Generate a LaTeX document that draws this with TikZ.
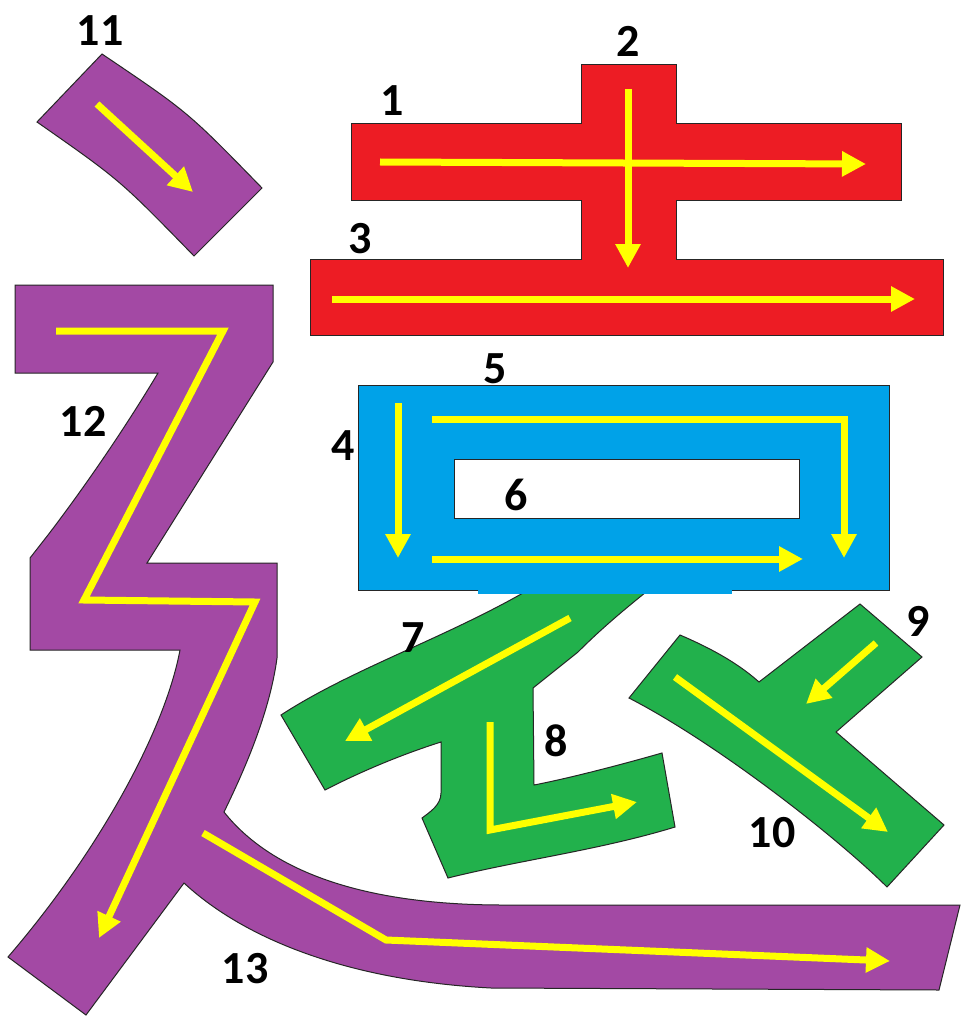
\documentclass[tikz,border=0pt]{standalone}
\usepackage{fontspec}
\setmainfont{Carlito}
\usetikzlibrary{arrows.meta}
\definecolor{kpurple}{HTML}{A349A4}
\definecolor{kred}{HTML}{ED1C24}
\definecolor{kblue}{HTML}{00A2E8}
\definecolor{kgreen}{HTML}{22B14C}
\definecolor{kyellow}{HTML}{FFFF00}
\tikzset{
  strokeshape/.style={draw=black!85, line width=1pt, line join=miter},
  dirarrow/.style={draw=kyellow, line width=7pt, line join=miter,
    -{Triangle[length=24pt,width=24pt]}},
  numlabel/.style={font=\fontsize{46}{46}\selectfont\bfseries, text=black, inner sep=0pt}
}
\begin{document}
\begin{tikzpicture}[x=1pt,y=-1pt]
\useasboundingbox (0,0) rectangle (961,1016);
\fill[white] (0,0) rectangle (961,1016);

% ---- stroke 11 (dot)
\draw[strokeshape, fill=kpurple] (102,54) .. controls (188,112) .. (262,188)
  -- (194,256) .. controls (120,180) .. (37,122) -- cycle;

% ---- strokes 12 + 13
\draw[strokeshape, fill=kpurple] (15,285) -- (273,285) -- (273,362) -- (147,563)
  -- (277,563) -- (277,658) .. controls (270,710) and (247,765) .. (224,812)
  .. controls (270,870) and (360,905) .. (503,905) -- (960,905) -- (939,990)
  -- (491,988) .. controls (340,980) and (240,935) .. (184,883)
  -- (86,1015) -- (8,957) .. controls (100,850) and (165,730) .. (180,650)
  -- (30,650) -- (30,558) -- (48,535) .. controls (90,480) and (130,420) .. (158,373)
  -- (15,373) -- cycle;

% ---- red (strokes 1,2,3)
\draw[strokeshape, fill=kred] (581,65) -- (676,65) -- (676,124) -- (901,124)
  -- (901,201) -- (676,201) -- (676,259) -- (943,259) -- (943,335) -- (310,335)
  -- (310,259) -- (581,259) -- (581,201) -- (351,201) -- (351,124) -- (581,124) -- cycle;

% ---- green strokes 7 + 8
\draw[strokeshape, fill=kgreen] (528,588) -- (523,593)
  .. controls (440,640) and (350,670) .. (281,715) -- (325,790)
  .. controls (360,772) and (400,755) .. (441,742) -- (441,793)
  .. controls (441,805) and (430,812) .. (422,818) -- (448,878)
  .. controls (520,860) and (600,850) .. (675,827) -- (662,753)
  .. controls (620,765) and (570,778) .. (534,785) -- (533,688) -- (578,652)
  .. controls (605,625) and (630,605) .. (651,588) -- cycle;

% ---- green strokes 9 + 10
\draw[strokeshape, fill=kgreen] (680,635) .. controls (715,650) and (740,665) .. (759,682)
  -- (860,604) -- (922,657) -- (836,732) -- (944,825) -- (887,887)
  .. controls (840,840) and (720,745) .. (629,698) -- cycle;

% ---- blue (strokes 4,5,6)
\draw[strokeshape, fill=kblue] (358,385) rectangle (889,590);
\fill[kblue] (478,585) rectangle (732,594);
\draw[strokeshape, fill=white] (454,459) rectangle (799,518);

% ---- direction arrows
\draw[dirarrow] (97,104) -- (193,192);
\draw[dirarrow] (380,162) -- (866,164);
\draw[dirarrow] (628,89) -- (628,268);
\draw[dirarrow] (332,299) -- (915,299);
\draw[dirarrow] (398,403) -- (398,558);
\draw[dirarrow] (432,419) -- (844,419) -- (844,558);
\draw[dirarrow] (432,559) -- (803,559);
\draw[dirarrow] (570,618) -- (345,741);
\draw[dirarrow] (490,722) -- (490,830) -- (637,802);
\draw[dirarrow] (876,643) -- (806,704);
\draw[dirarrow] (675,677) -- (888,832);
\draw[dirarrow] (56,331) -- (223,331) -- (84,600) -- (255,602) -- (99,938);
\draw[dirarrow] (203,833) -- (386,940) -- (890,961);

% ---- labels
\node[numlabel] (n1) at (392,101) {1};
\node[numlabel] (n2) at (628,41) {2};
\node[numlabel] (n3) at (360,239) {3};
\node[numlabel] (n4) at (343,446) {4};
\node[numlabel] (n5) at (495,369) {5};
\node[numlabel] (n6) at (516,495) {6};
\node[numlabel] (n7) at (413,638) {7};
\node[numlabel] (n8) at (556,741) {8};
\node[numlabel] (n9) at (918,621) {9};
\node[numlabel] (n10) at (772,833) {10};
\node[numlabel] (n11) at (100,31) {11};
\node[numlabel] (n12) at (83,421) {12};
\node[numlabel] (n13) at (245,969) {13};
\end{tikzpicture}
\end{document}
